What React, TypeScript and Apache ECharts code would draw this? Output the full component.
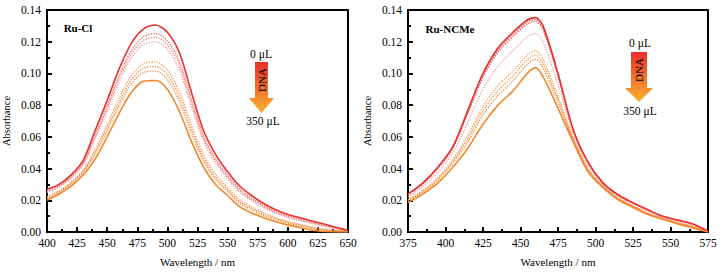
import React, { useEffect, useRef } from "react";
import * as echarts from "echarts";

// ---------- data ----------
const WL_CL = [400, 410, 420, 430, 440, 450, 460, 470, 480, 490, 500, 510, 520, 530, 540, 550, 560, 570, 580, 590, 600, 610, 620, 630, 640, 650];
const CL_0 = [0.027, 0.030, 0.036, 0.045, 0.064, 0.083, 0.103, 0.119, 0.128, 0.1305, 0.126, 0.113, 0.088, 0.064, 0.049, 0.038, 0.029, 0.023, 0.018, 0.014, 0.011, 0.009, 0.007, 0.005, 0.003, 0.001];
const CL_1 = [0.0260, 0.0291, 0.0350, 0.0437, 0.0613, 0.0796, 0.0988, 0.1144, 0.1231, 0.1253, 0.1206, 0.1075, 0.0834, 0.0606, 0.0462, 0.0358, 0.0271, 0.0214, 0.0167, 0.0129, 0.0100, 0.0081, 0.0061, 0.0043, 0.0026, 0.0009];
const CL_2 = [0.0255, 0.0287, 0.0345, 0.0430, 0.0600, 0.0779, 0.0968, 0.1122, 0.1207, 0.1228, 0.1181, 0.1049, 0.0812, 0.0589, 0.0448, 0.0347, 0.0261, 0.0206, 0.0160, 0.0124, 0.0096, 0.0076, 0.0057, 0.0040, 0.0023, 0.0008];
const CL_3 = [0.0249, 0.0282, 0.0339, 0.0423, 0.0586, 0.0761, 0.0946, 0.1097, 0.1181, 0.1200, 0.1152, 0.1019, 0.0787, 0.0571, 0.0433, 0.0335, 0.0251, 0.0197, 0.0153, 0.0118, 0.0091, 0.0071, 0.0053, 0.0036, 0.0021, 0.0007];
const CL_4 = [0.0224, 0.0260, 0.0314, 0.0391, 0.0521, 0.0678, 0.0845, 0.0985, 0.1062, 0.1074, 0.1022, 0.0886, 0.0675, 0.0488, 0.0365, 0.0281, 0.0204, 0.0157, 0.0121, 0.0091, 0.0067, 0.0049, 0.0032, 0.0019, 0.0010, 0.0003];
const CL_5 = [0.0218, 0.0255, 0.0308, 0.0383, 0.0505, 0.0658, 0.0820, 0.0958, 0.1033, 0.1043, 0.0990, 0.0853, 0.0648, 0.0468, 0.0348, 0.0268, 0.0193, 0.0148, 0.0113, 0.0084, 0.0061, 0.0043, 0.0027, 0.0015, 0.0008, 0.0003];
const CL_6 = [0.0212, 0.0250, 0.0302, 0.0375, 0.0491, 0.0639, 0.0798, 0.0933, 0.1006, 0.1015, 0.0961, 0.0823, 0.0623, 0.0449, 0.0332, 0.0256, 0.0182, 0.0139, 0.0105, 0.0078, 0.0056, 0.0039, 0.0023, 0.0011, 0.0005, 0.0002];
const CL_7 = [0.020, 0.024, 0.029, 0.036, 0.046, 0.060, 0.075, 0.088, 0.095, 0.0955, 0.090, 0.076, 0.057, 0.041, 0.030, 0.023, 0.016, 0.012, 0.009, 0.0065, 0.0045, 0.0028, 0.0013, 0.0003, 0, 0];

const WL_NC = [375, 385, 395, 405, 415, 425, 435, 445, 455, 460, 465, 475, 485, 495, 505, 515, 525, 535, 545, 555, 565, 575];
const NC_0 = [0.024, 0.031, 0.041, 0.054, 0.077, 0.100, 0.116, 0.126, 0.134, 0.1352, 0.130, 0.100, 0.065, 0.044, 0.031, 0.0235, 0.0185, 0.014, 0.010, 0.0075, 0.005, 0.0005];
const NC_1 = [0.0238, 0.0307, 0.0406, 0.0534, 0.0761, 0.0988, 0.1146, 0.1246, 0.1327, 0.1340, 0.1288, 0.0992, 0.0647, 0.0438, 0.0309, 0.0234, 0.0184, 0.0139, 0.0099, 0.0074, 0.0049, 0.0005];
const NC_2 = [0.0236, 0.0304, 0.0402, 0.0530, 0.0751, 0.0975, 0.1132, 0.1231, 0.1314, 0.1327, 0.1275, 0.0983, 0.0644, 0.0435, 0.0308, 0.0232, 0.0183, 0.0138, 0.0098, 0.0073, 0.0048, 0.0005];
const NC_3 = [0.0223, 0.0288, 0.0378, 0.0500, 0.0694, 0.0900, 0.1046, 0.1143, 0.1234, 0.1252, 0.1199, 0.0930, 0.0625, 0.0421, 0.0301, 0.0225, 0.0176, 0.0131, 0.0094, 0.0067, 0.0042, 0.0003];
const NC_4 = [0.0204, 0.0264, 0.0344, 0.0458, 0.0612, 0.0792, 0.0923, 0.1016, 0.1119, 0.1143, 0.1089, 0.0855, 0.0597, 0.0400, 0.0290, 0.0214, 0.0165, 0.0120, 0.0087, 0.0059, 0.0034, 0.0002];
const NC_5 = [0.0199, 0.0258, 0.0336, 0.0448, 0.0591, 0.0765, 0.0892, 0.0985, 0.1091, 0.1116, 0.1062, 0.0836, 0.0590, 0.0395, 0.0288, 0.0212, 0.0163, 0.0118, 0.0085, 0.0056, 0.0031, 0.0001];
const NC_6 = [0.0194, 0.0252, 0.0327, 0.0437, 0.0571, 0.0738, 0.0861, 0.0953, 0.1062, 0.1089, 0.1034, 0.0817, 0.0584, 0.0390, 0.0285, 0.0209, 0.0160, 0.0115, 0.0083, 0.0054, 0.0029, 0.0001];
const NC_7 = [0.0185, 0.024, 0.031, 0.041, 0.053, 0.068, 0.080, 0.089, 0.1005, 0.1035, 0.098, 0.078, 0.057, 0.038, 0.028, 0.0205, 0.0155, 0.011, 0.008, 0.005, 0.0025, 0];

const Y_TICKS_MIN = 0;
const Y_TICKS_MAX = 0.14;
const Y_INTERVAL = 0.02;

const CL_SERIES = [CL_0, CL_1, CL_2, CL_3, CL_4, CL_5, CL_6, CL_7];
const NC_SERIES = [NC_0, NC_1, NC_2, NC_3, NC_4, NC_5, NC_6, NC_7];
const CL_COLORS = ["#e8322f", "#ee6c52", "#f08a8c", "#f2a2a8", "#f59a5c", "#f49248", "#f38a3c", "#f5862c"];
const NC_COLORS = ["#e8322f", "#e84848", "#ec5c5c", "#f3a0a8", "#f7a060", "#f5964a", "#f38c3a", "#f5862c"];

const SERIF_FAMILY = '"Liberation Serif", "Times New Roman", "DejaVu Serif", serif';

export default function App() {
  const ref = useRef<HTMLDivElement>(null);

  useEffect(() => {
    document.body.style.margin = "0";
    if (!ref.current) return;
    const chart = echarts.init(ref.current, null, { renderer: "svg" });

    const makeX = (gi: number, min: number, max: number) => ({
      type: "value",
      gridIndex: gi,
      min,
      max,
      interval: 25,
      name: "Wavelength / nm",
      nameLocation: "middle",
      nameGap: 24,
      nameTextStyle: { fontFamily: SERIF_FAMILY, fontSize: 11, color: "#000" },
      axisLine: { show: true, lineStyle: { color: "#000", width: 2 } },
      axisTick: { show: true, inside: true, length: 5, lineStyle: { color: "#000", width: 2 } },
      minorTick: { show: true, splitNumber: 2, length: 3, lineStyle: { color: "#000", width: 2 } },
      axisLabel: { fontFamily: SERIF_FAMILY, fontSize: 11.5, color: "#000", margin: 5 },
      splitLine: { show: false },
    });
    const makeY = (gi: number) => ({
      type: "value",
      gridIndex: gi,
      min: Y_TICKS_MIN,
      max: Y_TICKS_MAX,
      interval: Y_INTERVAL,
      name: "Absorbance",
      nameLocation: "middle",
      nameGap: 35,
      nameTextStyle: { fontFamily: SERIF_FAMILY, fontSize: 10.5, color: "#000" },
      axisLine: { show: true, lineStyle: { color: "#000", width: 2 } },
      axisTick: { show: true, inside: true, length: 5, lineStyle: { color: "#000", width: 2 } },
      minorTick: { show: true, splitNumber: 2, length: 3, lineStyle: { color: "#000", width: 2 } },
      axisLabel: {
        fontFamily: SERIF_FAMILY,
        fontSize: 11.5,
        color: "#000",
        margin: 6,
        formatter: (v: number) => v.toFixed(2),
      },
      splitLine: { show: false },
    });

    const mkSeries = (wl: number[], vals: number[][], colors: string[], gi: number) =>
      vals.map((arr, i) => {
        const solid = i === 0 || i === vals.length - 1;
        return {
          type: "line",
          xAxisIndex: gi,
          yAxisIndex: gi,
          data: wl.map((w, k) => [w, arr[k]]),
          showSymbol: false,
          smooth: 0.3,
          z: solid ? 5 : 3,
          lineStyle: {
            color: colors[i],
            width: solid ? 1.6 : 1.3,
            type: solid ? "solid" : "dotted",
          },
          silent: true,
        };
      });

    const gradient = {
      type: "linear",
      x: 0,
      y: 0,
      x2: 0,
      y2: 1,
      colorStops: [
        { offset: 0, color: "#e8302c" },
        { offset: 1, color: "#f8b22e" },
      ],
    };

    const arrow = (cx: number, top: number, shaftHalf: number, shaftBottom: number, headHalf: number, tip: number) => ({
      type: "polygon",
      shape: {
        points: [
          [cx - shaftHalf, top],
          [cx + shaftHalf, top],
          [cx + shaftHalf, shaftBottom],
          [cx + headHalf, shaftBottom],
          [cx, tip],
          [cx - headHalf, shaftBottom],
          [cx - shaftHalf, shaftBottom],
        ],
      },
      style: { fill: gradient },
    });

    const txt = (x: number, y: number, text: string, bold = false, rotation = 0, size = 11.5) => ({
      type: "text",
      x,
      y,
      rotation,
      style: {
        text,
        fill: "#000",
        font: `${bold ? "bold " : ""}${size}px ${SERIF_FAMILY}`,
        textAlign: "center",
        textVerticalAlign: "middle",
      },
    });

    chart.setOption({
      animation: false,
      backgroundColor: "#fff",
      textStyle: { fontFamily: SERIF_FAMILY },
      grid: [
        { left: 47, top: 10, width: 301, height: 224, show: true, borderColor: "#000", borderWidth: 2, backgroundColor: "transparent" },
        { left: 408, top: 10, width: 300, height: 224, show: true, borderColor: "#000", borderWidth: 2, backgroundColor: "transparent" },
      ],
      xAxis: [makeX(0, 400, 650), makeX(1, 375, 575)],
      yAxis: [makeY(0), makeY(1)],
      series: [...mkSeries(WL_CL, CL_SERIES, CL_COLORS, 0), ...mkSeries(WL_NC, NC_SERIES, NC_COLORS, 1)],
      graphic: [
        txt(78, 28, "Ru-Cl", true, 0, 11),
        txt(450, 29, "Ru-NCMe", true, 0, 11),
        arrow(261.5, 62, 6.5, 98, 12.5, 113),
        txt(261, 54, "0 μL"),
        txt(263, 121, "350 μL"),
        txt(261.5, 80, "DNA", false, Math.PI / 2, 11),
        arrow(639, 52, 8, 88, 14, 102),
        txt(640, 43, "0 μL"),
        txt(640, 111, "350 μL"),
        txt(639, 70, "DNA", false, Math.PI / 2, 11),
      ],
    });

    return () => chart.dispose();
  }, []);

  return <div ref={ref} style={{ width: 723, height: 272 }} />;
}
